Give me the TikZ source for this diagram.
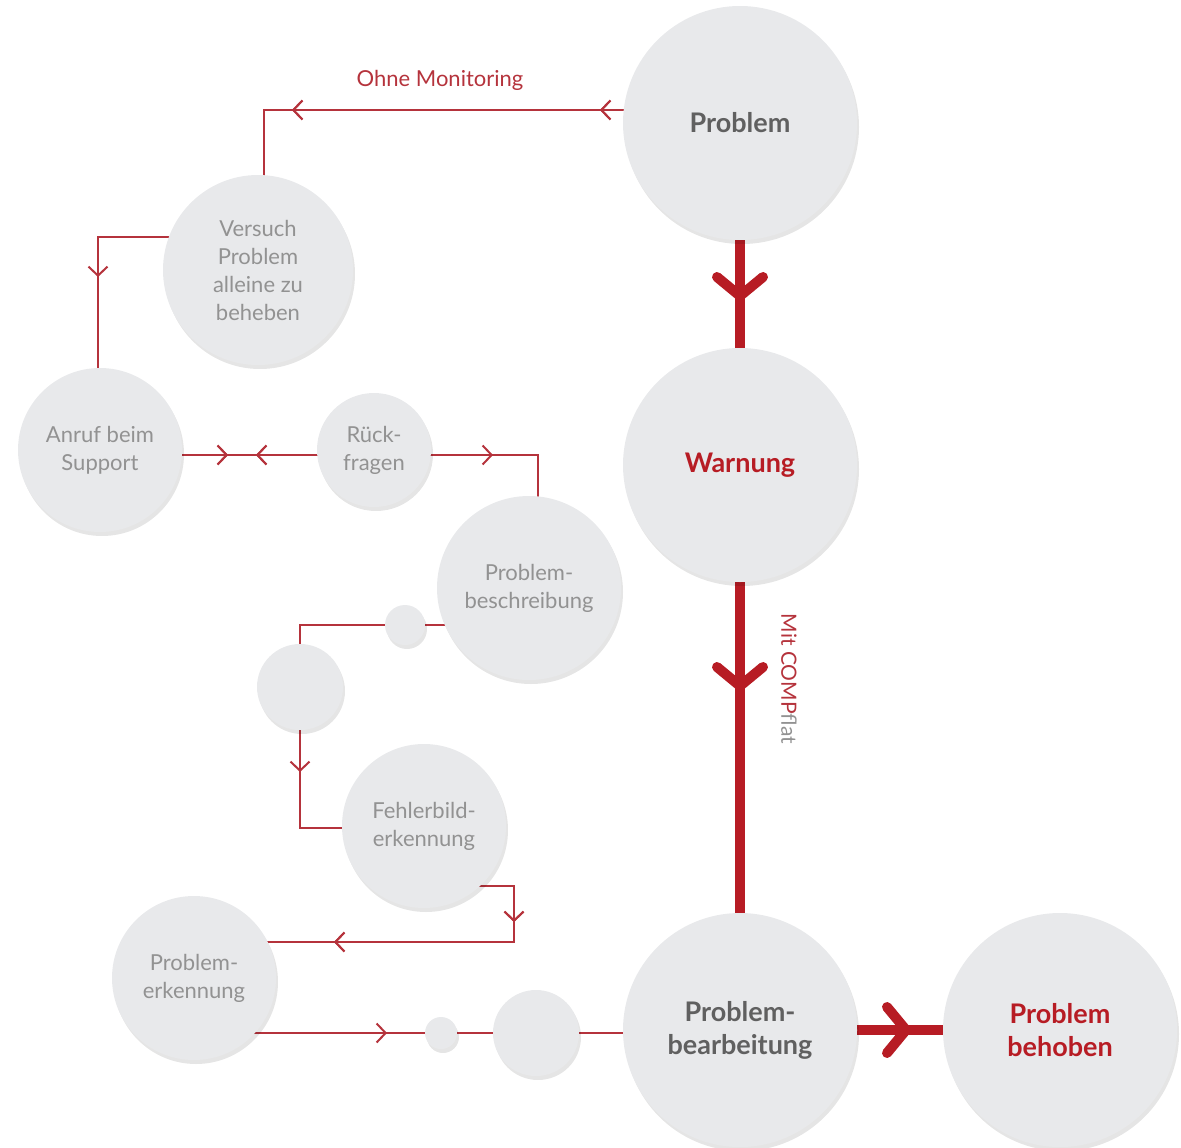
\documentclass[tikz,border=0pt]{standalone}
\usepackage{fontspec}
\setmainfont{Lato}
\usetikzlibrary{arrows.meta,decorations.markings,shadows}
\definecolor{cred}{HTML}{B71C24}
\definecolor{lred}{HTML}{B5333C}
\definecolor{cfill}{HTML}{E8E9EB}
\definecolor{ltext}{HTML}{929292}
\definecolor{dtext}{HTML}{606060}
\pgfdeclarelayer{bg}
\pgfsetlayers{bg,main}
\tikzset{
  circ/.style={circle, fill=cfill, inner sep=0pt, align=center,
    drop shadow={shadow xshift=2pt, shadow yshift=-4pt, opacity=0.10, fill=black}},
  lighttxt/.style={text=ltext, font=\fontsize{22}{28}\selectfont},
  boldtxt/.style={font=\bfseries\fontsize{27}{33}\selectfont},
  thinline/.style={draw=lred, line width=2pt},
  thickline/.style={draw=cred, line width=10pt},
  tarr/.style={postaction={decorate}, decoration={markings,
    mark=at position #1 with {\arrow{Straight Barb[length=9pt,width=19pt,line width=2pt]}}}},
  tarrrev/.style={postaction={decorate}, decoration={markings,
    mark=at position #1 with {\arrowreversed{Straight Barb[length=9pt,width=19pt,line width=2pt]}}}},
  bigarr/.style={postaction={decorate}, decoration={markings,
    mark=at position #1 with {\arrow{Straight Barb[length=19pt,width=46pt,line width=10pt,round]}}}},
}
\begin{document}
\begin{tikzpicture}[x=1pt,y=-1pt]
\useasboundingbox (0,0) rectangle (1181,1148);
% nodes
\node[circ, minimum size=234pt, boldtxt, text=dtext] (prob) at (740,123) {Problem};
\node[circ, minimum size=234pt, boldtxt, text=cred] (warn) at (740,465) {Warnung};
\node[circ, minimum size=234pt, boldtxt, text=dtext] (bearb) at (740,1030) {Problem-\\bearbeitung};
\node[circ, minimum size=234pt, boldtxt, text=cred] (beh) at (1060,1030) {Problem\\behoben};
\node[circ, minimum size=190pt, lighttxt] (vers) at (258,270) {Versuch\\Problem\\alleine zu\\beheben};
\node[circ, minimum size=164pt, lighttxt] (anruf) at (100,450) {Anruf beim\\Support};
\node[circ, minimum size=114pt, lighttxt] (rueck) at (374,450) {Rück-\\fragen};
\node[circ, minimum size=184pt, lighttxt] (pbes) at (529,588) {Problem-\\beschreibung};
\node[circ, minimum size=40pt] (s1) at (405,625) {};
\node[circ, minimum size=86pt] (m1) at (300,687) {};
\node[circ, minimum size=164pt, lighttxt] (fehl) at (424,826) {Fehlerbild-\\erkennung};
\node[circ, minimum size=164pt, lighttxt] (perk) at (194,978) {Problem-\\erkennung};
\node[circ, minimum size=32pt] (s2) at (441,1033) {};
\node[circ, minimum size=86pt] (m2) at (536,1033) {};
% labels
\node[text=lred, font=\fontsize{22}{26}\selectfont] (ohne) at (440,80) {Ohne Monitoring};
\node[rotate=-90, font=\fontsize{21}{26}\selectfont] (mit) at (789,679)
  {\textcolor{lred}{Mit COMP}\textcolor{ltext}{flat}};
% connectors
\begin{pgfonlayer}{bg}
\draw[thinline, tarr=140pt, tarr=448pt] ([yshift=13pt]prob.center) -| ([xshift=6pt]vers.center);
\draw[thinline, tarr=200pt] ([yshift=33pt]vers.center) -| ([xshift=-2pt]anruf.center);
\draw[thinline, tarr=128pt, tarrrev=156pt] ([yshift=-5pt]anruf.center) -- ([yshift=-5pt]rueck.center);
\draw[thinline, tarr=119pt] ([yshift=-5pt]rueck.center) -| ([xshift=9pt]pbes.center);
\draw[thinline] ([yshift=-37pt]pbes.center) -- (s1.center) -| (m1.center);
\draw[thinline, tarr=85pt] (m1.center) |- ([yshift=-2pt]fehl.center);
\draw[thinline, tarr=126pt, tarr=326pt] ([yshift=-60pt]fehl.center) -| ([xshift=90pt,yshift=-116pt]fehl.center) -| ([yshift=36pt]perk.center);
\draw[thinline, tarr=193pt] ([yshift=-55pt]perk.center) -- (s2.center) -- (m2.center) -- (m2.center -| bearb.center);
\draw[thickline, bigarr=178pt] (prob.center) -- (warn.center);
\draw[thickline, bigarr=226pt] (warn.center) -- (bearb.center);
\draw[thickline, bigarr=171pt] (bearb.center) -- (beh.center);
\end{pgfonlayer}
\end{tikzpicture}
\end{document}
